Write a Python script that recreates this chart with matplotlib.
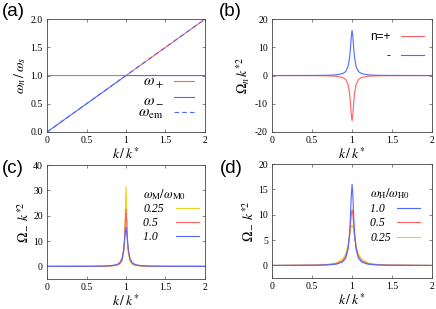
import matplotlib
matplotlib.use("Agg")
import matplotlib.pyplot as plt

plt.rcParams["font.family"] = ["Liberation Serif", "DejaVu Serif"]
plt.rcParams["mathtext.fontset"] = "stix"

RED = "#ff6060"
BLUE = "#5068ff"
YELLOW = "#ecd020"

# (a) dispersion branches
k_a = [0.0, 0.5, 0.9, 1.0, 1.1, 1.5, 2.0]
w_plus = [1.0, 1.0, 1.0, 1.0, 1.1, 1.5, 2.0]
w_minus = [0.0, 0.5, 0.9, 1.0, 1.0, 1.0, 1.0]
w_em = [0.0, 0.5, 0.9, 1.0, 1.1, 1.5, 2.0]

# peaks: offsets from k/k* = 1 and half profiles
dk = [0.0, 0.01, 0.02, 0.03, 0.05, 0.08, 0.12, 0.2, 0.3, 0.45, 1.0]

# (b)
omega_plus_b = [-16.0, -13.8, -9.8, -6.6, -3.2, -1.4, -0.66, -0.24, -0.11, -0.04, 0.0]
omega_minus_b = [16.0, 13.8, 9.8, 6.6, 3.2, 1.4, 0.66, 0.24, 0.11, 0.04, 0.0]

# (c) w_M / w_M0
c_labels = ["0.25", "0.5\u2007", "1.0\u2007"]
c_025 = [31.5, 19.0, 9.0, 5.0, 2.0, 0.8, 0.35, 0.1, 0.05, 0.02, 0.0]
c_05 = [22.5, 17.0, 10.0, 6.0, 2.6, 1.1, 0.5, 0.15, 0.07, 0.03, 0.0]
c_10 = [15.5, 13.0, 9.5, 6.5, 3.2, 1.4, 0.65, 0.25, 0.11, 0.04, 0.0]

# (d) w_H / w_H0
d_labels = ["1.0\u2007", "0.5\u2007", "0.25"]
d_10 = [16.0, 13.8, 9.8, 6.6, 3.2, 1.4, 0.66, 0.24, 0.11, 0.04, 0.0]
d_05 = [11.0, 10.0, 8.0, 6.0, 3.5, 1.8, 0.9, 0.35, 0.15, 0.06, 0.0]
d_025 = [8.0, 7.7, 6.9, 5.9, 4.0, 2.2, 1.2, 0.48, 0.22, 0.09, 0.0]

xticks = [0, 0.5, 1, 1.5, 2]
xticklabels = ["0", "0.5", "1", "1.5", "2"]


def mirror(half):
    k = [1 - d for d in dk[::-1]] + [1 + d for d in dk[1:]]
    y = list(half[::-1]) + list(half[1:])
    return k, y


def style(ax, ylim, yticks, yticklabels, ylabel):
    ax.set_xlim(0, 2)
    ax.set_ylim(*ylim)
    ax.set_xticks(xticks)
    ax.set_xticklabels(xticklabels)
    ax.set_yticks(yticks)
    ax.set_yticklabels(yticklabels)
    ax.tick_params(direction="in", top=True, right=True, labelsize=7,
                   length=2.5, width=0.5, color="#555555", pad=3)
    for s in ax.spines.values():
        s.set_linewidth(0.6)
        s.set_color("#444444")
    ax.set_xlabel(r"$k\,/\,k^{*}$", fontsize=10, labelpad=1)
    ax.set_ylabel(ylabel, fontsize=10, labelpad=2)


fig = plt.figure(figsize=(4.36, 3.09), dpi=100)
ax_a = fig.add_axes([0.108, 0.573, 0.362, 0.365])
ax_b = fig.add_axes([0.624, 0.573, 0.367, 0.365])
ax_c = fig.add_axes([0.108, 0.097, 0.362, 0.369])
ax_d = fig.add_axes([0.624, 0.100, 0.367, 0.369])

lw = 0.8
leg_prop = {"family": ["Liberation Serif", "DejaVu Serif"], "style": "italic", "size": 8.5}

# (a)
ax_a.plot(k_a, w_plus, color=RED, lw=lw, label=r"$\omega_+$")
ax_a.plot(k_a, w_minus, color=BLUE, lw=lw, label=r"$\omega_-$")
ax_a.plot(k_a, w_em, color=BLUE, lw=lw, ls=(0, (4, 3)), label=r"$\omega_{\rm em}$")
style(ax_a, (0, 2), [0, 0.5, 1, 1.5, 2], ["0.0", "0.5", "1.0", "1.5", "2.0"],
      r"$\omega_n\,/\,\omega_s$")
ax_a.legend(loc="lower right", frameon=False, fontsize=11, markerfirst=False,
            handlelength=1.3, labelspacing=0.05, borderaxespad=0.4,
            borderpad=0.3, handletextpad=0.7)

# (b)
kb, yb = mirror(omega_plus_b)
ax_b.plot(kb, yb, color=RED, lw=lw, label="n=+")
kb, yb = mirror(omega_minus_b)
ax_b.plot(kb, yb, color=BLUE, lw=lw, label="-")
style(ax_b, (-20, 20), [-20, -10, 0, 10, 20], ["-20", "-10", "0", "10", "20"],
      r"$\Omega_n\,k^{*2}$")
ax_b.legend(loc="upper right", bbox_to_anchor=(1.0, 0.965), frameon=False,
            markerfirst=False, handlelength=1.9, labelspacing=0.55,
            borderaxespad=0.3, handletextpad=0.9,
            prop={"family": "Liberation Sans", "size": 8.5})

# (c)
for ys, col, lab in zip([c_025, c_05, c_10], [YELLOW, RED, BLUE], c_labels):
    kk, yy = mirror(ys)
    ax_c.plot(kk, yy, color=col, lw=lw, label=lab)
style(ax_c, (-5, 40), [0, 10, 20, 30, 40], ["0", "10", "20", "30", "40"],
      r"$\Omega_-\,k^{*2}$")
ax_c.legend(loc="upper right", bbox_to_anchor=(1.038, 0.912), frameon=False,
            markerfirst=False, title=r"$\omega_{\rm M}/\omega_{\rm M0}$",
            title_fontsize=9, prop=leg_prop, alignment="left", handlelength=2.0,
            handletextpad=1.0, labelspacing=0.15, borderaxespad=0.6)

# (d)
for ys, col, lab in zip([d_025, d_05, d_10], [YELLOW, RED, BLUE], d_labels[::-1]):
    kk, yy = mirror(ys)
    ax_d.plot(kk, yy, color=col, lw=lw, label=lab)
style(ax_d, (-2.5, 20), [0, 5, 10, 15, 20], ["0", "5", "10", "15", "20"],
      r"$\Omega_-\,k^{*2}$")
h, l = ax_d.get_legend_handles_labels()
ax_d.legend(h[::-1], l[::-1], loc="upper right", bbox_to_anchor=(1.0, 0.912),
            frameon=False, markerfirst=False,
            title=r"$\omega_{\rm H}/\omega_{\rm H0}$", title_fontsize=9,
            prop=leg_prop, alignment="left", handlelength=2.0,
            handletextpad=0.5, labelspacing=0.2, borderaxespad=0.6,
            borderpad=0.4)

for lab, x, y in [("(a)", 0.004, 0.962), ("(b)", 0.502, 0.962),
                  ("(c)", 0.004, 0.456), ("(d)", 0.504, 0.456)]:
    fig.text(x, y, lab, fontsize=13.5, family="Liberation Sans", va="center", ha="left")

fig.savefig("out.png", dpi=100)
